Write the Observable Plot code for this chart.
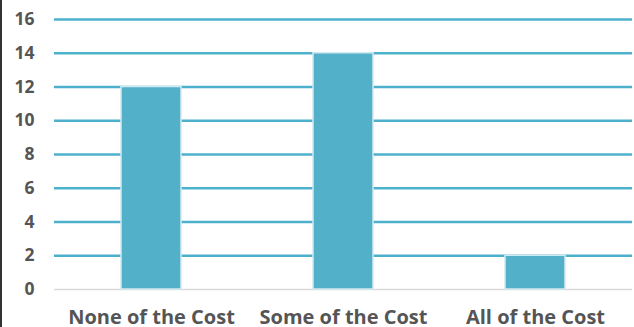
<!DOCTYPE html>
<html>
<head>
<meta charset="utf-8">
<script src="https://cdn.jsdelivr.net/npm/d3@7"></script>
<script src="https://cdn.jsdelivr.net/npm/@observablehq/plot@0.6"></script>
<style>
  html, body { margin: 0; padding: 0; background: #fff; }
  #chart { width: 634px; height: 327px; border-left: 2px solid #333; box-sizing: border-box; overflow: hidden; }
  svg { display: block; overflow: visible; }
</style>
</head>
<body>
<div id="chart"></div>
<script>
const categories = ["None of the Cost", "Some of the Cost", "All of the Cost"];
const values = [12, 14, 2];
const yTicks = [0, 2, 4, 6, 8, 10, 12, 14, 16];
const gridTicks = [2, 4, 6, 8, 10, 12, 14, 16];

const data = categories.map((c, i) => ({category: c, value: values[i]}));

const chart = Plot.plot({
  width: 632,
  height: 327,
  marginLeft: 52,
  marginRight: 2,
  marginTop: 19,
  marginBottom: 38,
  style: {fontFamily: "'Open Sans', sans-serif", fontWeight: 700, fontSize: "17px", color: "#555", background: "#fff"},
  x: {domain: categories, paddingInner: 0.69, paddingOuter: 0.345, label: null},
  y: {domain: [0, 16], ticks: yTicks, label: null},
  marks: [
    Plot.ruleY(gridTicks, {stroke: "#4db0cc", strokeWidth: 2.5}),
    Plot.ruleY([0], {stroke: "#d9d9d9", strokeWidth: 1.5}),
    Plot.barY(data, {x: "category", y: "value", fill: "#53b0c9", stroke: "#cfeaf1", strokeWidth: 1.5}),
    Plot.axisY({ticks: yTicks, tickSize: 0, tickPadding: 20, fill: "#555", fontWeight: 700, fontSize: 17.5, label: null}),
    Plot.axisX({tickSize: 0, tickPadding: 20, fill: "#555", fontWeight: 700, fontSize: 20, label: null})
  ]
});
document.getElementById("chart").appendChild(chart);
</script>
</body>
</html>
